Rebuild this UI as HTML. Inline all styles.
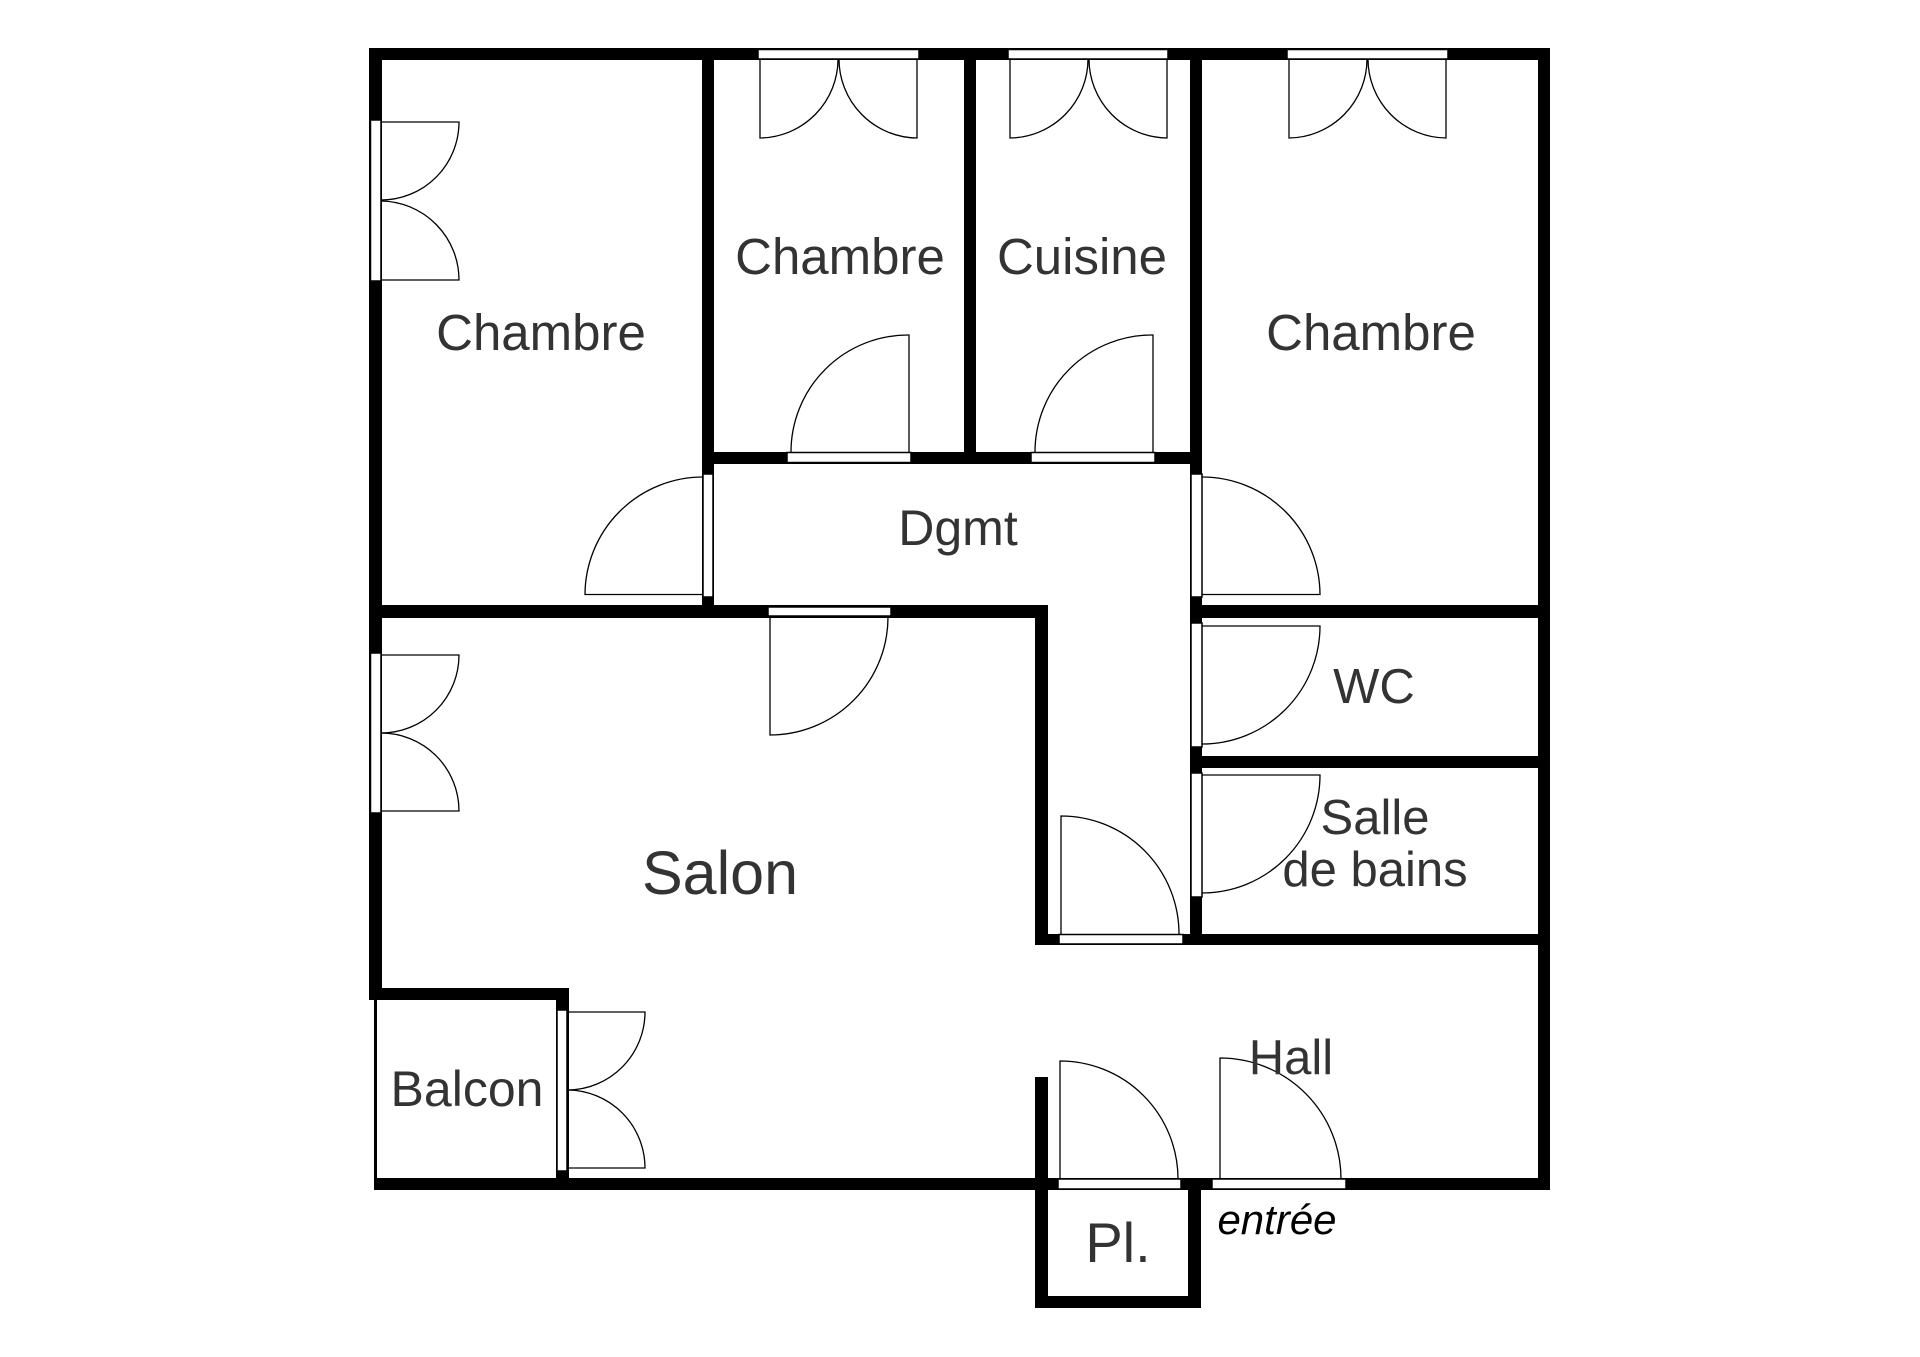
<!DOCTYPE html>
<html><head><meta charset="utf-8"><style>
html,body{margin:0;padding:0;background:#fff;}
svg{display:block;}
text{font-family:"Liberation Sans",sans-serif;fill:#333;}
</style></head><body>
<svg width="1920" height="1357" viewBox="0 0 1920 1357" xmlns="http://www.w3.org/2000/svg">
<rect width="1920" height="1357" fill="#fff"/>
<g fill="#000">
<rect x="369" y="48" width="1181" height="12"/>
<rect x="369" y="48" width="13" height="951"/>
<rect x="1538" y="48" width="12" height="1142"/>
<rect x="374" y="1178" width="1176" height="12"/>
<rect x="369" y="988" width="200" height="12"/>
<rect x="374" y="999" width="3" height="191"/>
<rect x="556" y="988" width="13" height="202"/>
<rect x="702" y="48" width="12" height="570"/>
<rect x="964" y="48" width="12" height="416"/>
<rect x="1190" y="48" width="12" height="897"/>
<rect x="702" y="452" width="500" height="12"/>
<rect x="369" y="605" width="679" height="13"/>
<rect x="1035" y="605" width="13" height="340"/>
<rect x="1035" y="934" width="515" height="11"/>
<rect x="1190" y="605" width="360" height="13"/>
<rect x="1190" y="756" width="360" height="12"/>
<rect x="1035" y="1077" width="13" height="231"/>
<rect x="1188" y="1178" width="13" height="130"/>
<rect x="1035" y="1296" width="166" height="12"/>
</g>
<g fill="#fff" stroke="#000" stroke-width="1.5">
<rect x="370.5" y="120" width="10.5" height="161"/>
<rect x="370.5" y="653" width="10.5" height="160"/>
<rect x="758" y="49.5" width="161" height="9.5"/>
<rect x="1008" y="49.5" width="160" height="9.5"/>
<rect x="1287" y="49.5" width="161" height="9.5"/>
<rect x="787" y="452.5" width="124" height="10"/>
<rect x="1031" y="452.5" width="124" height="10"/>
<rect x="703" y="474" width="10" height="123"/>
<rect x="1191" y="474" width="11" height="123"/>
<rect x="768" y="607" width="123" height="9"/>
<rect x="1191" y="623" width="11" height="124"/>
<rect x="1191" y="773" width="11" height="124"/>
<rect x="1059" y="934.5" width="124" height="9.5"/>
<rect x="557" y="1010" width="10" height="161"/>
<rect x="1058" y="1179" width="123" height="10"/>
<rect x="1212" y="1179" width="134" height="10"/>
</g>
<g fill="none" stroke="#000" stroke-width="1.3">
<path d="M381 122 L459 122 A78 78 0 0 1 381 200"/>
<path d="M381 280 L459 280 A79 79 0 0 0 381 201"/>
<path d="M760 59 L760 138 A79 79 0 0 0 838 59"/>
<path d="M917 59 L917 138 A79 79 0 0 1 839 59"/>
<path d="M1010 59 L1010 138 A79 79 0 0 0 1088 59"/>
<path d="M1167 59 L1167 138 A79 79 0 0 1 1089 59"/>
<path d="M1289 59 L1289 138 A79 79 0 0 0 1367 59"/>
<path d="M1446 59 L1446 138 A79 79 0 0 1 1368 59"/>
<path d="M909 452 L909 335 A117 117 0 0 0 791 452"/>
<path d="M1153 452 L1153 335 A117 117 0 0 0 1035 452"/>
<path d="M703 594.5 L585 594.5 A118 118 0 0 1 703 477"/>
<path d="M1202 594.5 L1320 594.5 A118 118 0 0 0 1202 477"/>
<path d="M770 616 L770 735 A118 118 0 0 0 888 616"/>
<path d="M381 655 L459 655 A78 78 0 0 1 381 733"/>
<path d="M381 811 L459 811 A78 78 0 0 0 381 733"/>
<path d="M568 1012 L645 1012 A78 78 0 0 1 568 1090"/>
<path d="M568 1168 L645 1168 A78 78 0 0 0 568 1090"/>
<path d="M1202 626 L1320 626 A118 118 0 0 1 1202 744"/>
<path d="M1202 775 L1320 775 A118 118 0 0 1 1202 893"/>
<path d="M1061 934 L1061 816 A118 118 0 0 1 1179 934"/>
<path d="M1060 1179 L1060 1061 A118 118 0 0 1 1178 1179"/>
<path d="M1220 1179 L1220 1058 A121 121 0 0 1 1341 1179"/>
</g>
<g text-anchor="middle" font-size="51">
<text x="541" y="350">Chambre</text>
<text x="840" y="274">Chambre</text>
<text x="1082" y="274">Cuisine</text>
<text x="1371" y="350">Chambre</text>
<text x="958" y="545" font-size="50">Dgmt</text>
<text x="720" y="894" font-size="61">Salon</text>
<text x="467" y="1106" font-size="50">Balcon</text>
<text x="1374" y="703" font-size="49">WC</text>
<text x="1375" y="834" font-size="49">Salle</text>
<text x="1375" y="886" font-size="49">de bains</text>
<text x="1291" y="1074" font-size="49">Hall</text>
<text x="1118" y="1262" font-size="56">Pl.</text>
<text x="1277" y="1234" font-size="42" font-style="italic" fill="#000" style="fill:#000">entrée</text>
</g>
</svg>
</body></html>
